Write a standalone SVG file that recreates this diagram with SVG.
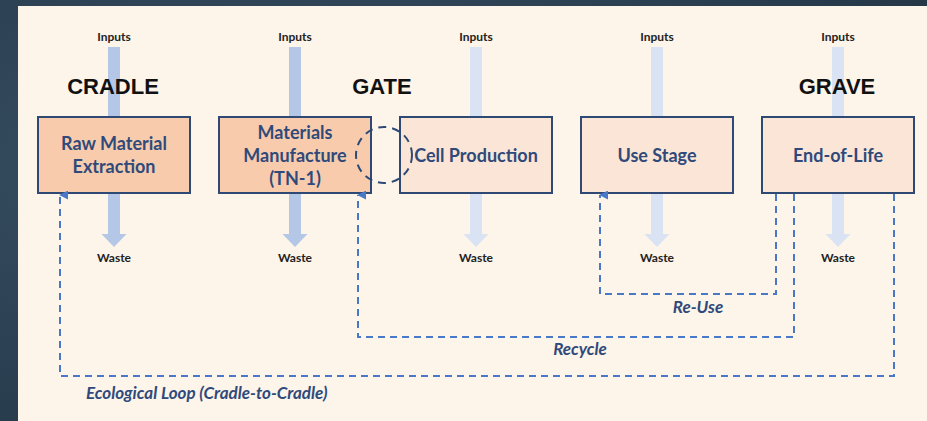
<svg xmlns="http://www.w3.org/2000/svg" width="927" height="421" viewBox="0 0 927 421">
<defs>
<style>
.box{stroke:#2e4a74;stroke-width:2}
.dark{fill:#f8cbad}
.light{fill:#fbe5d6}
.btxt{font-family:Lato,"Open Sans",sans-serif;font-weight:bold;font-size:18px;fill:#2f4a7a;text-anchor:middle}
.io{font-family:Lato,"Open Sans",sans-serif;font-weight:bold;font-size:12px;fill:#222;text-anchor:middle}
.stage{font-family:"Liberation Sans",Arial,sans-serif;font-weight:bold;font-size:22px;fill:#111;text-anchor:middle}
.lbl{font-family:Lato,"Open Sans",sans-serif;font-weight:bold;font-style:italic;font-size:17px;fill:#2f4a7a}
.dash{fill:none;stroke:#4a78c8;stroke-width:2;stroke-dasharray:7,5}
</style>
<marker id="ah" viewBox="0 0 10 10" refX="5" refY="1" markerWidth="9" markerHeight="9" markerUnits="userSpaceOnUse" orient="auto-start-reverse">
<path d="M0,10 L5,0 L10,10 Z" fill="#4a78c8"/>
</marker>
<radialGradient id="bg" cx="30%" cy="40%" r="80%">
<stop offset="0" stop-color="#3a5266"/>
<stop offset="1" stop-color="#243848"/>
</radialGradient>
</defs>
<rect x="0" y="0" width="927" height="421" fill="url(#bg)"/>
<rect x="18" y="6" width="909" height="415" fill="#fdf4ea"/>

<g id="flows">
<path d="M108,47 H120 V234 H126.5 L114,247 L101.5,234 H108 Z" fill="#b4c7e7"/>
<path d="M289,47 H301 V234 H307.5 L295,247 L282.5,234 H289 Z" fill="#b4c7e7"/>
<path d="M470,47 H482 V234 H488.5 L476,247 L463.5,234 H470 Z" fill="#dae3f3"/>
<path d="M651,47 H663 V234 H669.5 L657,247 L644.5,234 H651 Z" fill="#dae3f3"/>
<path d="M832,47 H844 V234 H850.5 L838,247 L825.5,234 H832 Z" fill="#dae3f3"/>
<text class="io" x="114" y="41">Inputs</text>
<text class="io" x="295" y="41">Inputs</text>
<text class="io" x="476" y="41">Inputs</text>
<text class="io" x="657" y="41">Inputs</text>
<text class="io" x="838" y="41">Inputs</text>
<text class="io" x="114" y="262">Waste</text>
<text class="io" x="295" y="262">Waste</text>
<text class="io" x="476" y="262">Waste</text>
<text class="io" x="657" y="262">Waste</text>
<text class="io" x="838" y="262">Waste</text>
</g>

<text class="stage" x="113" y="94">CRADLE</text>
<text class="stage" x="382" y="94">GATE</text>
<text class="stage" x="837" y="94">GRAVE</text>

<g id="raw">
<rect class="box dark" x="38" y="117" width="152" height="76"/>
<text class="btxt" x="114" y="150">Raw Material</text>
<text class="btxt" x="114" y="173">Extraction</text>
</g>
<g id="manufacture">
<rect class="box dark" x="219" y="117" width="152" height="76"/>
<text class="btxt" x="295" y="139">Materials</text>
<text class="btxt" x="295" y="162">Manufacture</text>
<text class="btxt" x="295" y="185">(TN-1)</text>
</g>
<g id="cell">
<rect class="box light" x="400" y="117" width="152" height="76"/>
<text class="btxt" x="476" y="162">Cell Production</text>
</g>
<g id="use">
<rect class="box light" x="581" y="117" width="152" height="76"/>
<text class="btxt" x="657" y="162">Use Stage</text>
</g>
<g id="eol">
<rect class="box light" x="762" y="117" width="152" height="76"/>
<text class="btxt" x="838" y="162">End-of-Life</text>
</g>

<circle cx="384" cy="155" r="28" fill="none" stroke="#2e4a74" stroke-width="2" stroke-dasharray="8,6"/>

<g id="connectors">
<path class="dash" d="M776,194 V294 H600 V195" marker-end="url(#ah)"/>
<path class="dash" d="M794,194 V337 H358 V195" marker-end="url(#ah)"/>
<path class="dash" d="M894,194 V376 H60 V195" marker-end="url(#ah)"/>
</g>
<text class="lbl" x="698" y="313" text-anchor="middle">Re-Use</text>
<text class="lbl" x="580" y="355" text-anchor="middle">Recycle</text>
<text class="lbl" x="86" y="399">Ecological Loop (Cradle-to-Cradle)</text>
</svg>
